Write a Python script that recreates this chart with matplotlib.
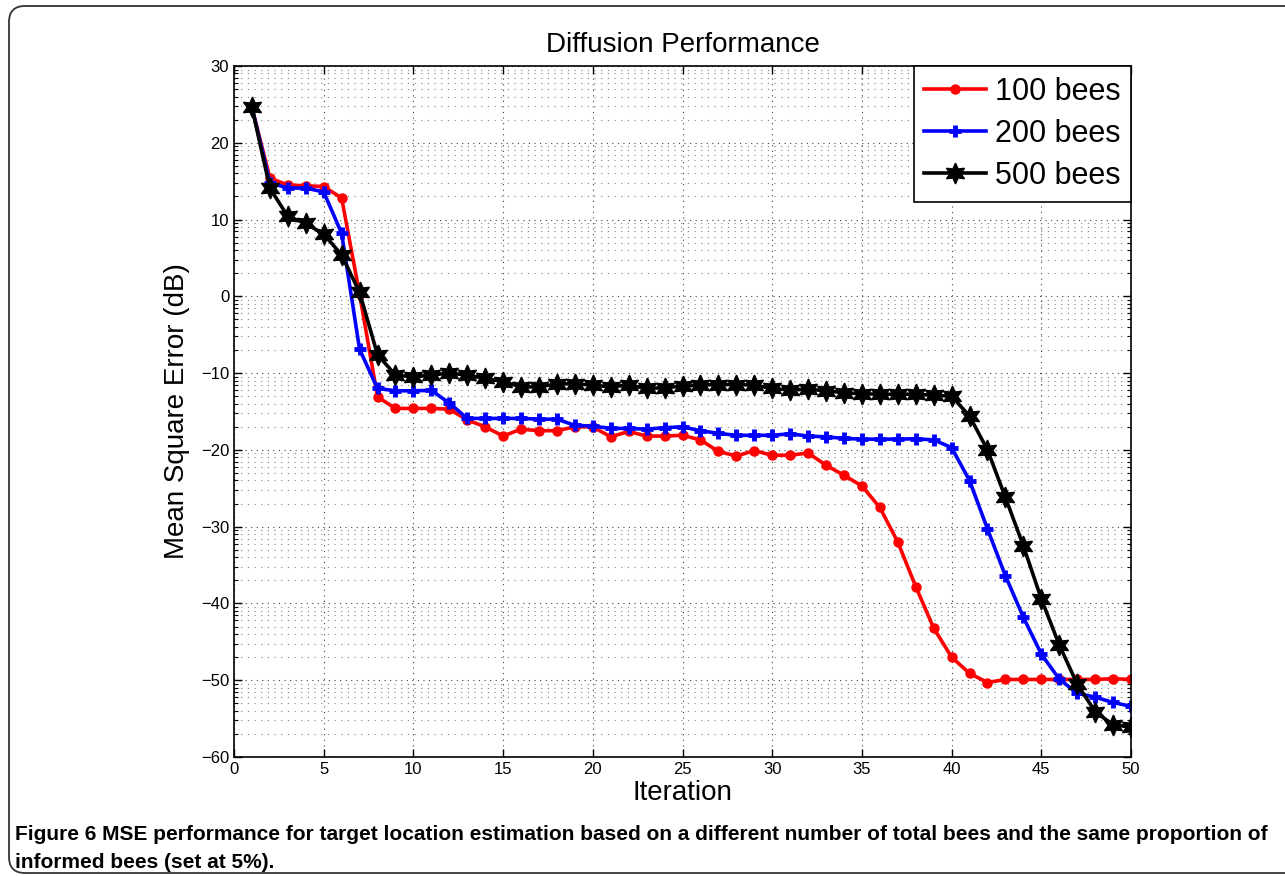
import numpy as np
import matplotlib
matplotlib.use('Agg')
import matplotlib.pyplot as plt
from matplotlib.patches import FancyBboxPatch

# data
iters = np.arange(1, 51)

mse_100 = [24.6, 15.4, 14.5, 14.4, 14.3, 12.8, 0.3, -13.1, -14.6, -14.6,
           -14.6, -14.7, -16.1, -17.0, -18.2, -17.3, -17.5, -17.5, -17.0, -17.0,
           -18.3, -17.6, -18.2, -18.2, -18.1, -18.7, -20.2, -20.8, -20.1, -20.7,
           -20.7, -20.4, -22.0, -23.3, -24.7, -27.5, -32.0, -37.8, -43.2, -47.0,
           -49.1, -50.3, -49.9, -49.9, -49.9, -49.9, -49.9, -49.9, -49.8, -49.9]

mse_200 = [24.6, 14.8, 14.1, 14.1, 13.6, 8.2, -6.9, -12.0, -12.3, -12.3,
           -12.25, -13.9, -15.9, -15.9, -15.9, -15.9, -16.0, -16.0, -16.8, -16.9,
           -17.2, -17.2, -17.3, -17.1, -17.0, -17.5, -17.85, -18.1, -18.1, -18.1,
           -17.9, -18.2, -18.3, -18.5, -18.6, -18.6, -18.6, -18.55, -18.7, -19.7,
           -24.0, -30.3, -36.4, -41.8, -46.6, -49.85, -51.7, -52.2, -52.9, -53.4]

mse_500 = [24.6, 14.1, 10.4, 9.5, 8.1, 5.4, 0.5, -7.6, -10.25, -10.5,
           -10.25, -10.0, -10.25, -10.7, -11.1, -11.8, -11.8, -11.4, -11.4, -11.55,
           -11.8, -11.55, -12.0, -11.9, -11.7, -11.55, -11.5, -11.5, -11.55, -12.0,
           -12.2, -12.1, -12.3, -12.55, -12.7, -12.75, -12.75, -12.75, -12.9, -13.0,
           -15.6, -20.0, -26.2, -32.5, -39.4, -45.4, -50.5, -54.1, -55.8, -56.1]

labels = ['100 bees', '200 bees', '500 bees']
x_ticks = np.arange(0, 51, 5)
y_ticks = np.arange(-60, 31, 10)

plt.rcParams['font.family'] = ['Liberation Sans', 'DejaVu Sans']

fig = plt.figure(figsize=(12.85, 8.76), dpi=100)
ax = fig.add_axes([234 / 1285, 119 / 876, 897 / 1285, 691 / 876])

ax.plot(iters, mse_100, color='red', lw=2.6, marker='o', ms=6.5, label=labels[0])
ax.plot(iters, mse_200, color='blue', lw=2.6, marker='+', ms=8, mew=3.5, label=labels[1])
ax.plot(iters, mse_500, color='black', lw=2.6, marker=(6, 1, 0), ms=15, label=labels[2])

ax.set_xlim(0, 50)
ax.set_ylim(-60, 30)
ax.set_xticks(x_ticks)
ax.set_yticks(y_ticks)

# minor y grid spaced like a log decade (as in the original figure)
minor_y = [m + 10 * np.log10(k) for m in range(-60, 30, 10) for k in range(2, 10)]
ax.set_yticks(minor_y, minor=True)

ax.grid(True, which='major', linestyle=(0, (1, 4)), color='0.25', lw=0.8)
ax.grid(True, which='minor', axis='y', linestyle=(0, (1, 5)), color='0.5', lw=0.8)

ax.tick_params(which='both', direction='in', top=True, right=True, labelsize=12)
ax.tick_params(which='major', length=6, width=1.0)
ax.tick_params(which='minor', length=3, width=0.8)
for s in ax.spines.values():
    s.set_linewidth(1.2)

ax.set_title('Diffusion Performance', fontsize=20, pad=10)
ax.set_xlabel('Iteration', fontsize=20, labelpad=2)
ax.set_ylabel('Mean Square Error (dB)', fontsize=20, labelpad=8)

leg = ax.legend(loc='upper right', fontsize=22, borderaxespad=0, fancybox=False,
                framealpha=1, edgecolor='black', handlelength=2.0,
                handletextpad=0.3, borderpad=0.35, labelspacing=0.4)
leg.get_frame().set_linewidth(1.2)

# rounded frame around the figure and caption
frame = FancyBboxPatch((9, 3), 1400, 867, boxstyle='round,pad=0,rounding_size=16',
                       transform=None, fill=False, edgecolor='0.2', lw=1.3,
                       clip_on=False)
fig.patches.append(frame)

cap_font = ['Liberation Sans', 'DejaVu Sans']
fig.text(15 / 1285, 1 - 834 / 876,
         'Figure 6 MSE performance for target location estimation based on a different '
         'number of total bees and the same proportion of',
         fontsize=15, fontweight='bold', family=cap_font, va='center', ha='left')
fig.text(15 / 1285, 1 - 862 / 876, 'informed bees (set at 5%).',
         fontsize=15, fontweight='bold', family=cap_font, va='center', ha='left')

fig.savefig('out.png', dpi=100)
